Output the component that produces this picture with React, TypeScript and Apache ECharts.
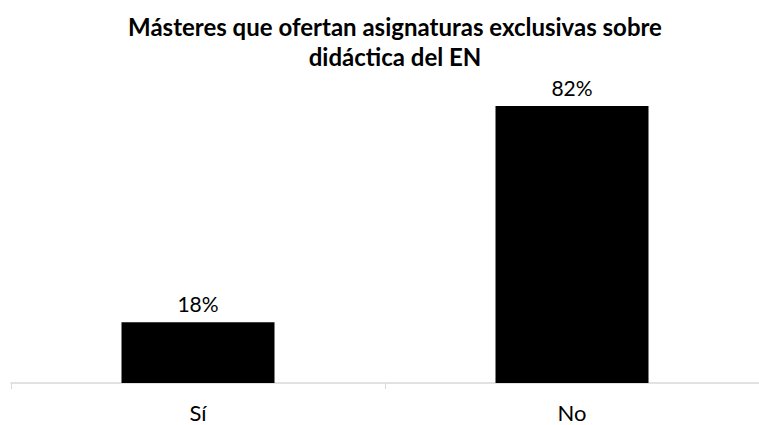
import React, { useEffect, useRef } from "react";
import * as echarts from "echarts";

const categories = ["Sí", "No"];
const values = [18, 82];
const titleText = "Másteres que ofertan asignaturas exclusivas sobre\ndidáctica del EN";

export default function App() {
  const ref = useRef<HTMLDivElement>(null);
  useEffect(() => {
    const chart = echarts.init(ref.current!, null, { renderer: "svg" });
    chart.setOption({
      animation: false,
      title: {
        text: titleText,
        left: 390,
        textAlign: "center",
        top: 6,
        textStyle: {
          fontFamily: "Lato",
          fontWeight: "bold",
          fontSize: 24,
          lineHeight: 30,
          color: "#000",
        },
      },
      grid: { left: 11, top: 79, width: 758, bottom: 42 },
      xAxis: {
        type: "category",
        data: categories,
        axisLine: { lineStyle: { color: "#d9d9d9", width: 1.5 } },
        axisTick: { show: true, length: 6, lineStyle: { color: "#d9d9d9" } },
        axisLabel: { fontFamily: "Lato", fontSize: 22, color: "#000", margin: 18 },
      },
      yAxis: { type: "value", min: 0, max: 90, show: false },
      series: [
        {
          type: "bar",
          data: values,
          barWidth: 153,
          itemStyle: { color: "#000" },
          label: {
            show: true,
            position: "top",
            formatter: "{c}%",
            fontFamily: "Lato",
            fontSize: 21,
            color: "#000",
            distance: 8,
          },
        },
      ],
    });
    return () => chart.dispose();
  }, []);
  return <div ref={ref} style={{ position: "fixed", left: 0, top: 0, width: 759, height: 425, background: "#fff" }} />;
}
